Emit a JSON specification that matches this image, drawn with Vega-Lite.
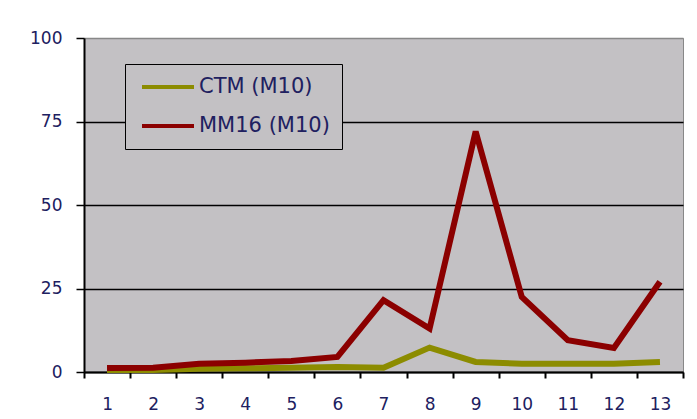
{
  "$schema": "https://vega.github.io/schema/vega-lite/v6.json",
  "autosize": "none",
  "width": 599,
  "height": 334,
  "padding": {"left": 84, "top": 38, "right": 14, "bottom": 47},
  "background": "white",
  "data": {"values": [
    {"x": "1", "s": "CTM (M10)", "v": 0.6},
    {"x": "2", "s": "CTM (M10)", "v": 0.6},
    {"x": "3", "s": "CTM (M10)", "v": 1.0},
    {"x": "4", "s": "CTM (M10)", "v": 1.1},
    {"x": "5", "s": "CTM (M10)", "v": 1.3},
    {"x": "6", "s": "CTM (M10)", "v": 1.5},
    {"x": "7", "s": "CTM (M10)", "v": 1.3},
    {"x": "8", "s": "CTM (M10)", "v": 7.3},
    {"x": "9", "s": "CTM (M10)", "v": 3.0},
    {"x": "10", "s": "CTM (M10)", "v": 2.5},
    {"x": "11", "s": "CTM (M10)", "v": 2.5},
    {"x": "12", "s": "CTM (M10)", "v": 2.5},
    {"x": "13", "s": "CTM (M10)", "v": 3.0},
    {"x": "1", "s": "MM16 (M10)", "v": 1.2},
    {"x": "2", "s": "MM16 (M10)", "v": 1.3},
    {"x": "3", "s": "MM16 (M10)", "v": 2.5},
    {"x": "4", "s": "MM16 (M10)", "v": 2.8},
    {"x": "5", "s": "MM16 (M10)", "v": 3.3},
    {"x": "6", "s": "MM16 (M10)", "v": 4.5},
    {"x": "7", "s": "MM16 (M10)", "v": 21.5},
    {"x": "8", "s": "MM16 (M10)", "v": 13},
    {"x": "9", "s": "MM16 (M10)", "v": 72},
    {"x": "10", "s": "MM16 (M10)", "v": 22.5},
    {"x": "11", "s": "MM16 (M10)", "v": 9.5},
    {"x": "12", "s": "MM16 (M10)", "v": 7.2},
    {"x": "13", "s": "MM16 (M10)", "v": 27}
  ]},
  "mark": {"type": "line", "strokeWidth": 6, "strokeJoin": "miter"},
  "encoding": {
    "x": {
      "field": "x", "type": "ordinal", "sort": null, "bandPosition": 0.5,
      "scale": {"type": "band", "paddingInner": 0, "paddingOuter": 0},
      "axis": {"title": null, "labelAngle": 0, "tickBand": "extent", "grid": false,
        "domainColor": "black", "domainWidth": 2, "tickColor": "black", "tickWidth": 2, "tickSize": 6,
        "labelFont": "DejaVu Sans", "labelFontSize": 17, "labelColor": "#202060", "labelPadding": 18}
    },
    "y": {
      "field": "v", "type": "quantitative",
      "scale": {"domain": [0, 100], "nice": false},
      "axis": {"title": null, "values": [0, 25, 50, 75, 100], "grid": true,
        "gridColor": {"condition": {"test": "datum.value == 100", "value": "#888888"}, "value": "black"},
        "gridWidth": 1.5,
        "domainColor": "black", "domainWidth": 2, "tickColor": "black", "tickWidth": 1.5, "tickSize": 8,
        "labelFont": "DejaVu Sans", "labelFontSize": 17, "labelColor": "#202060", "labelPadding": 14}
    },
    "color": {
      "field": "s", "type": "nominal",
      "scale": {"domain": ["CTM (M10)", "MM16 (M10)"], "range": ["#8c8c00", "#8b0000"]},
      "legend": {"title": null, "orient": "none", "legendX": 41, "legendY": 26,
        "symbolType": "stroke", "symbolSize": 2704, "symbolStrokeWidth": 4,
        "clipHeight": 22,
        "labelFont": "DejaVu Sans", "labelFontSize": 21, "labelColor": "#202060",
        "labelExpr": "datum.label + '\u00a0\u00a0\u00a0\u00a0'",
        "fillColor": "#c3c1c4",
        "strokeColor": "black", "padding": 12, "rowPadding": 17, "labelOffset": 3, "symbolOffset": 3}
    }
  },
  "config": {
    "view": {"fill": "#c3c1c4", "stroke": "#888888", "strokeWidth": 1}
  }
}
